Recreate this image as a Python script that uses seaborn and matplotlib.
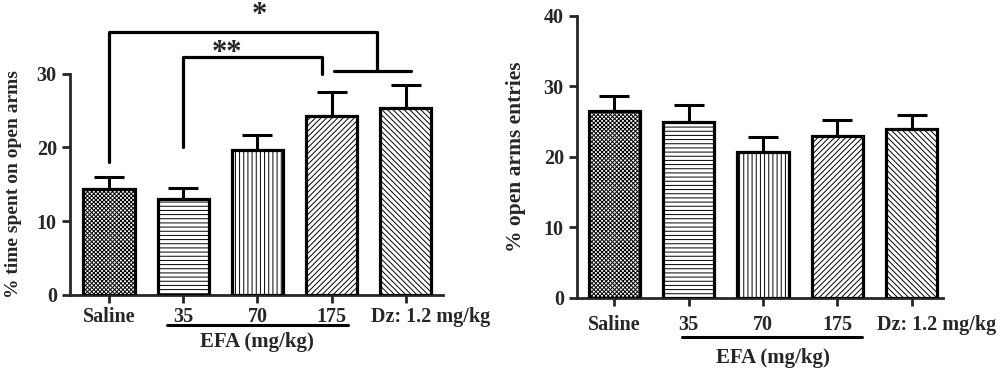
import matplotlib
matplotlib.use('Agg')
import matplotlib.pyplot as plt
import matplotlib.transforms as mtrans
import seaborn as sns

# data
groups = ['Saline', '35', '70', '175', 'Dz: 1.2 mg/kg']
time_mean = [14.3, 13.0, 19.6, 24.3, 25.4]
time_sem = [1.7, 1.5, 2.1, 3.2, 3.1]
entries_mean = [26.5, 25.0, 20.7, 22.9, 24.0]
entries_sem = [2.2, 2.3, 2.1, 2.3, 2.0]
hatches = ['xxxxxxxx', '----', '||||', '//////', '\\\\\\\\\\\\']

sns.set_style('ticks')
plt.rcParams['font.family'] = ['Liberation Serif', 'DejaVu Serif']
plt.rcParams['font.weight'] = 'bold'
plt.rcParams['hatch.linewidth'] = 0.7

fig = plt.figure(figsize=(10, 3.7), dpi=100)
ax1 = fig.add_axes([0.070, 0.203, 0.373, 0.797])
ax2 = fig.add_axes([0.577, 0.195, 0.366, 0.762])


def draw_panel(ax, means, sems, ylabel, ylabel_size, ytop, yticks, xlim):
    sns.barplot(x=groups, y=means, color='white', saturation=1, edgecolor='black',
                linewidth=2.3, width=0.69, errorbar=None, ax=ax, zorder=3)
    for patch, h in zip(ax.patches, hatches):
        patch.set_hatch(h)
    ax.errorbar(range(len(groups)), means, yerr=[[0] * len(sems), sems], fmt='none',
                ecolor='black', elinewidth=2.2, capsize=10.5, capthick=2.2, zorder=2)
    ax.set_ylim(0, ytop)
    ax.set_xlim(*xlim)
    ax.set_yticks(yticks)
    ax.set_ylabel(ylabel, fontsize=ylabel_size, fontweight='bold')
    ax.set_xlabel('')
    for side in ['top', 'right']:
        ax.spines[side].set_visible(False)
    ax.spines['left'].set_bounds(0, yticks[-1])
    ax.spines['left'].set_linewidth(2)
    ax.spines['bottom'].set_linewidth(2)
    ax.tick_params(axis='both', width=2, length=6, labelsize=14.5, direction='out')
    for lab in ax.get_xticklabels() + ax.get_yticklabels():
        lab.set_fontweight('bold')


draw_panel(ax1, time_mean, time_sem, '% time spent on open arms', 14, 40, [0, 10, 20, 30], (-0.525, 4.5))
draw_panel(ax2, entries_mean, entries_sem, '% open arms entries', 15.5, 40, [0, 10, 20, 30, 40], (-0.5, 4.42))
ax1.tick_params(axis='x', pad=3)
ax2.tick_params(axis='x', pad=6)
ax1.yaxis.set_label_coords(-0.13, 0.375)
ax2.yaxis.set_label_coords(-0.14, 0.5)

# the long Dz label starts just left of its bar, as in the original
for ax in (ax1, ax2):
    lab = ax.xaxis.get_major_ticks()[-1].label1
    lab.set_horizontalalignment('left')
    lab.set_transform(lab.get_transform() + mtrans.ScaledTranslation(-0.35, 0, fig.dpi_scale_trans))

# significance brackets (left panel)
lw = 2.3
ax1.plot([0, 0, 3.61, 3.61], [18.0, 35.7, 35.7, 30.4], color='black', lw=lw, clip_on=False)
ax1.plot([3.03, 4.07], [30.4, 30.4], color='black', lw=lw, clip_on=False)
ax1.plot([1, 1, 2.87, 2.87], [20.0, 32.3, 32.3, 29.9], color='black', lw=lw, clip_on=False)
ax1.text(2.03, 35.9, '*', ha='center', va='bottom', fontsize=22, clip_on=False)
ax1.text(1.59, 30.8, '**', ha='center', va='bottom', fontsize=22, clip_on=False)

# EFA group underline
ax1.plot([0.78, 3.22], [-4.05, -4.05], color='black', lw=2.2, clip_on=False)
ax1.text(2.0, -6.4, 'EFA (mg/kg)', ha='center', va='center', fontsize=15, fontweight='bold')
ax2.plot([0.91, 3.33], [-5.5, -5.5], color='black', lw=2.2, clip_on=False)
ax2.text(2.13, -8.5, 'EFA (mg/kg)', ha='center', va='center', fontsize=15, fontweight='bold')

fig.savefig('out.png', dpi=100)
